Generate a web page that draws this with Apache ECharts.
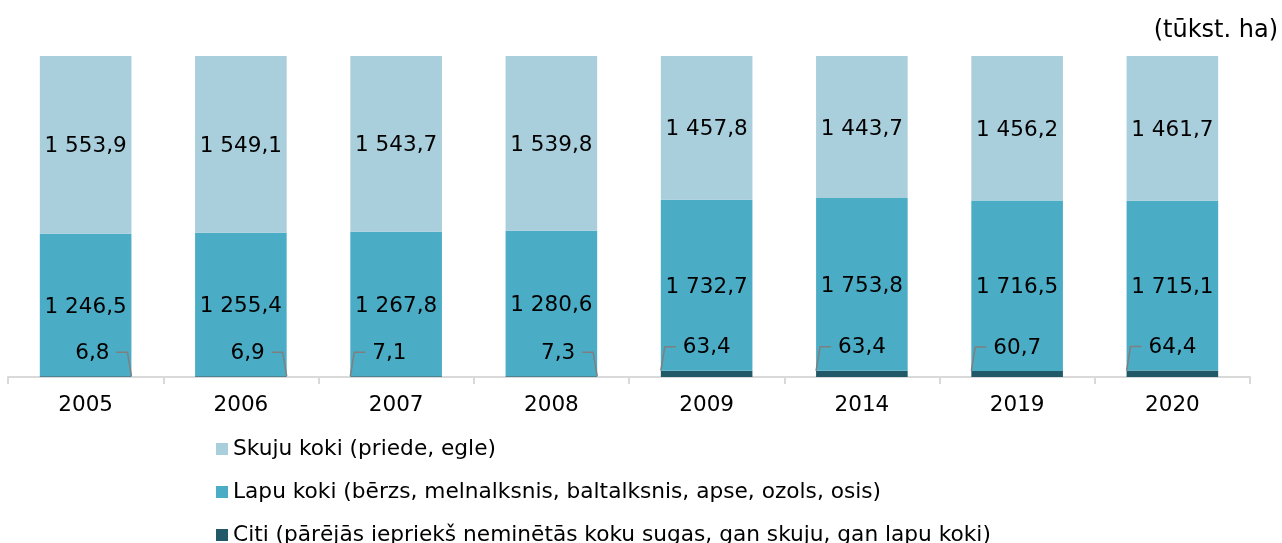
<!DOCTYPE html>
<html>
<head>
<meta charset="utf-8">
<script src="https://cdn.jsdelivr.net/npm/echarts@6/dist/echarts.min.js"></script>
<style>
  html, body { margin: 0; padding: 0; background: #fff; }
  #chart { width: 1282px; height: 543px; }
</style>
</head>
<body>
<div id="chart"></div>
<script>
// gadi
var years = ["2005", "2006", "2007", "2008", "2009", "2014", "2019", "2020"];
// platības, tūkst. ha
var skuju = [1553.9, 1549.1, 1543.7, 1539.8, 1457.8, 1443.7, 1456.2, 1461.7];
var lapu = [1246.5, 1255.4, 1267.8, 1280.6, 1732.7, 1753.8, 1716.5, 1715.1];
var citi = [6.8, 6.9, 7.1, 7.3, 63.4, 63.4, 60.7, 64.4];

var names = [
  "Skuju koki (priede, egle)",
  "Lapu koki (bērzs, melnalksnis, baltalksnis, apse, ozols, osis)",
  "Citi (pārējās iepriekš neminētās koku sugas, gan skuju, gan lapu koki)"
];

var FONT = "DejaVu Sans";
// kurā pusē stabiņam ir "Citi" etiķetes līnija
var leaderSide = ["right", "right", "left", "right", "left", "left", "left", "left"];

function fmt(v) {
  return v.toFixed(1).replace(".", ",").replace(/\B(?=(\d{3})+(?!\d))/g, " ");
}

// 100% stacked -> procenti
var totals = years.map(function (y, i) { return skuju[i] + lapu[i] + citi[i]; });
function pct(arr) {
  return arr.map(function (v, i) { return v / totals[i] * 100; });
}
var skujuPct = pct(skuju), lapuPct = pct(lapu), citiPct = pct(citi);

var chart = echarts.init(document.getElementById("chart"));

var barLabel = function (raw) {
  return {
    show: true,
    position: "inside",
    offset: [0, 2],
    color: "#000",
    fontFamily: FONT,
    fontSize: 21.5,
    formatter: function (p) { return fmt(raw[p.dataIndex]); }
  };
};

var option = {
  animation: false,
  textStyle: { fontFamily: FONT },
  title: {
    text: "(tūkst. ha)",
    right: 4,
    top: 19,
    padding: 0,
    textStyle: { fontFamily: FONT, fontSize: 24, fontWeight: "normal", color: "#000" }
  },
  legend: {
    orient: "vertical",
    left: 216,
    top: 438,
    height: 200,
    padding: 0,
    itemGap: 21,
    itemWidth: 12,
    itemHeight: 12,
    icon: "rect",
    data: names,
    textStyle: { fontFamily: FONT, fontSize: 21.7, color: "#000" }
  },
  grid: { left: 8, right: 32, top: 56, bottom: 166, containLabel: false },
  xAxis: {
    type: "category",
    data: years,
    axisLine: { lineStyle: { color: "#d9d9d9", width: 2 } },
    axisTick: { show: true, length: 7, lineStyle: { color: "#d9d9d9", width: 2 } },
    axisLabel: { color: "#000", fontFamily: FONT, fontSize: 21.5, margin: 17 }
  },
  yAxis: {
    type: "value",
    min: 0,
    max: 100,
    show: false,
    splitLine: { show: false }
  },
  series: [
    {
      name: names[2],
      type: "bar",
      stack: "total",
      barWidth: "59%",
      itemStyle: { color: "#215968" },
      data: citiPct
    },
    {
      name: names[1],
      type: "bar",
      stack: "total",
      barWidth: "59%",
      itemStyle: { color: "#4BACC6" },
      label: barLabel(lapu),
      data: lapuPct
    },
    {
      name: names[0],
      type: "bar",
      stack: "total",
      barWidth: "59%",
      itemStyle: { color: "#A9CEDC" },
      label: barLabel(skuju),
      data: skujuPct
    },
    {
      // "Citi" etiķetes ar līnijām
      type: "custom",
      silent: true,
      z: 10,
      encode: { x: 0, y: 1 },
      data: years.map(function (y, i) { return [i, citiPct[i]]; }),
      renderItem: function (params, api) {
        var idx = api.value(0);
        var base = api.coord([idx, 0]);
        var top = api.coord([idx, api.value(1)]);
        var bw = api.size([1, 0])[0] * 0.59;
        var side = leaderSide[idx];
        var edge = side === "right" ? base[0] + bw / 2 : base[0] - bw / 2;
        var dir = side === "right" ? -1 : 1;
        var ly = top[1] - 24;
        var p1 = [edge, top[1]];
        var p2 = [edge + dir * 4, ly];
        var p3 = [edge + dir * 15, ly];
        return {
          type: "group",
          children: [
            {
              type: "polyline",
              shape: { points: [p1, p2, p3] },
              style: { stroke: "#7f7f7f", lineWidth: 1.5, fill: null }
            },
            {
              type: "text",
              style: {
                text: fmt(citi[idx]),
                x: p3[0] + dir * 7,
                y: ly + 1,
                align: side === "right" ? "right" : "left",
                verticalAlign: "middle",
                font: "21.5px " + FONT,
                fill: "#000"
              }
            }
          ]
        };
      }
    }
  ]
};

chart.setOption(option);
</script>
</body>
</html>
